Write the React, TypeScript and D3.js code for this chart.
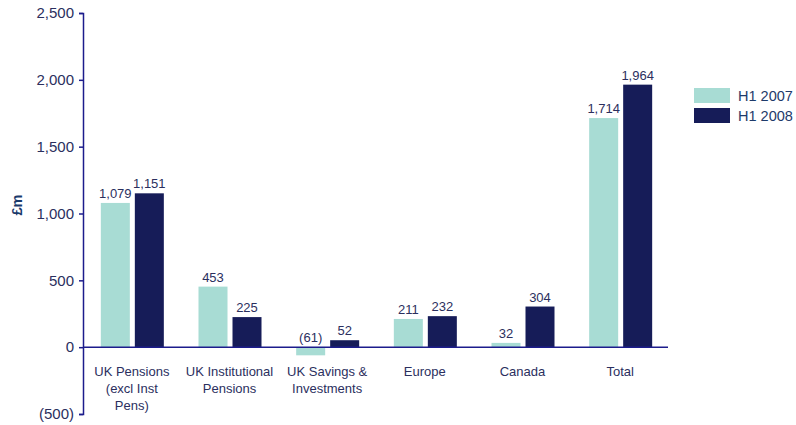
import React, { useEffect, useRef } from 'react';
import * as d3 from 'd3';

const categories = [
  ['UK Pensions', '(excl Inst', 'Pens)'],
  ['UK Institutional', 'Pensions'],
  ['UK Savings &', 'Investments'],
  ['Europe'],
  ['Canada'],
  ['Total'],
];
const seriesNames = ['H1 2007', 'H1 2008'];
const h12007 = [1079, 453, -61, 211, 32, 1714];
const h12008 = [1151, 225, 52, 232, 304, 1964];
const yTicks = [-500, 0, 500, 1000, 1500, 2000, 2500];

const colors = ['#a8dcd4', '#161c58'];
const textColor = '#2b2f5e';
const axisColor = '#1c1c8c';

function fmt(v: number) {
  const s = d3.format(',')(Math.abs(v));
  return v < 0 ? `(${s})` : s;
}

export default function App() {
  const ref = useRef<SVGSVGElement>(null);

  useEffect(() => {
    const svg = d3.select(ref.current);
    svg.selectAll('*').remove();

    const font = 'Liberation Sans, Arial, sans-serif';
    const y = d3.scaleLinear().domain([-500, 2500]).range([414, 13]);
    const x = d3
      .scaleBand<number>()
      .domain(categories.map((_, i) => i))
      .range([83, 669]);
    const barW = 29;

    // bars
    const series = [h12007, h12008];
    series.forEach((vals, s) => {
      const g = svg.append('g');
      g.selectAll('rect')
        .data(vals)
        .enter()
        .append('rect')
        .attr('x', (_, i) => x(i)! + x.bandwidth() / 2 + (s === 0 ? -31 : 3))
        .attr('width', barW)
        .attr('y', (d) => y(Math.max(0, d)))
        .attr('height', (d) => Math.abs(y(d) - y(0)))
        .attr('fill', colors[s]);

      g.selectAll('text')
        .data(vals)
        .enter()
        .append('text')
        .attr('x', (_, i) => x(i)! + x.bandwidth() / 2 + (s === 0 ? -31 : 3) + barW / 2)
        .attr('y', (d) => y(Math.max(0, d)) - 5)
        .attr('text-anchor', 'middle')
        .attr('font-family', font)
        .attr('font-size', 13)
        .attr('fill', textColor)
        .text((d) => fmt(d));
    });

    // zero line
    svg.append('line')
      .attr('x1', 83)
      .attr('x2', 668)
      .attr('y1', y(0))
      .attr('y2', y(0))
      .attr('stroke', axisColor)
      .attr('stroke-width', 1.5);

    // y axis
    const yAxis = svg.append('g').attr('transform', 'translate(83,0)');
    yAxis.call(
      d3.axisLeft(y)
        .tickValues(yTicks)
        .tickSize(4)
        .tickPadding(5)
        .tickFormat((d) => fmt(d as number))
    );
    yAxis.select('.domain').attr('stroke', axisColor).attr('stroke-width', 1.5);
    yAxis.selectAll('.tick line').attr('stroke', axisColor).attr('stroke-width', 1.5);
    yAxis.selectAll('.tick text')
      .attr('font-family', font)
      .attr('font-size', 15)
      .attr('fill', textColor);

    // y label
    svg.append('text')
      .attr('transform', 'translate(22,205) rotate(-90)')
      .attr('text-anchor', 'middle')
      .attr('font-family', font)
      .attr('font-weight', 'bold')
      .attr('font-size', 14.5)
      .attr('fill', '#1a3a6b')
      .text('£m');

    // category labels
    categories.forEach((lines, i) => {
      const t = svg.append('text')
        .attr('text-anchor', 'middle')
        .attr('font-family', font)
        .attr('font-size', 13)
        .attr('fill', textColor);
      lines.forEach((ln, j) => {
        t.append('tspan')
          .attr('x', x(i)! + x.bandwidth() / 2)
          .attr('y', 376 + j * 17)
          .text(ln);
      });
    });

    // legend
    seriesNames.forEach((name, s) => {
      svg.append('rect')
        .attr('x', 694)
        .attr('y', 88 + s * 20)
        .attr('width', 36)
        .attr('height', 15)
        .attr('fill', colors[s]);
      svg.append('text')
        .attr('x', 738)
        .attr('y', 101 + s * 20)
        .attr('font-family', font)
        .attr('font-size', 14.5)
        .attr('fill', '#1e3a6a')
        .text(name);
    });
  }, []);

  return (
    <svg
      ref={ref}
      width={796}
      height={425}
      style={{ position: 'absolute', left: 0, top: 0, background: '#fff' }}
    />
  );
}
